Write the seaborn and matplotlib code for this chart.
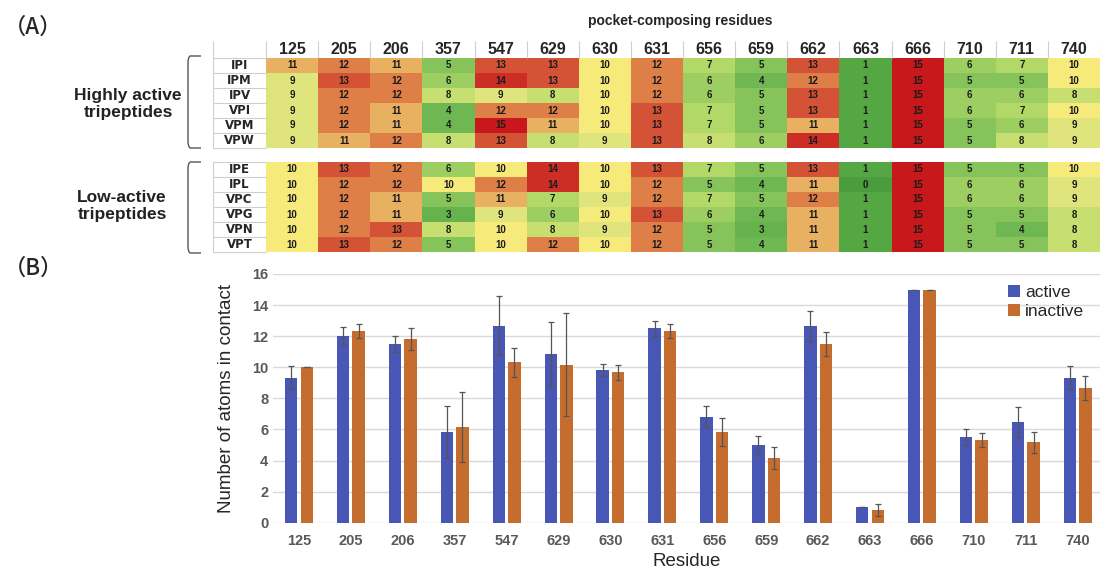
import numpy as np
import pandas as pd
import matplotlib.pyplot as plt
import seaborn as sns
from matplotlib.colors import LinearSegmentedColormap
from matplotlib.path import Path
from matplotlib.patches import PathPatch

sns.set_style('white')
plt.rcParams['font.family'] = ['Liberation Sans', 'DejaVu Sans']

# %% data
residues = ['125', '205', '206', '357', '547', '629', '630', '631',
            '656', '659', '662', '663', '666', '710', '711', '740']

high_names = ['IPI', 'IPM', 'IPV', 'VPI', 'VPM', 'VPW']
high_counts = [
    [11, 12, 11, 5, 13, 13, 10, 12, 7, 5, 13, 1, 15, 6, 7, 10],
    [9, 13, 12, 6, 14, 13, 10, 12, 6, 4, 12, 1, 15, 5, 5, 10],
    [9, 12, 12, 8, 9, 8, 10, 12, 6, 5, 13, 1, 15, 6, 6, 8],
    [9, 12, 11, 4, 12, 12, 10, 13, 7, 5, 13, 1, 15, 6, 7, 10],
    [9, 12, 11, 4, 15, 11, 10, 13, 7, 5, 11, 1, 15, 5, 6, 9],
    [9, 11, 12, 8, 13, 8, 9, 13, 8, 6, 14, 1, 15, 5, 8, 9],
]

low_names = ['IPE', 'IPL', 'VPC', 'VPG', 'VPN', 'VPT']
low_counts = [
    [10, 13, 12, 6, 10, 14, 10, 13, 7, 5, 13, 1, 15, 5, 5, 10],
    [10, 12, 12, 10, 12, 14, 10, 12, 5, 4, 11, 0, 15, 6, 6, 9],
    [10, 12, 11, 5, 11, 7, 9, 12, 7, 5, 12, 1, 15, 6, 6, 9],
    [10, 12, 11, 3, 9, 6, 10, 13, 6, 4, 11, 1, 15, 5, 5, 8],
    [10, 12, 13, 8, 10, 8, 9, 12, 5, 3, 11, 1, 15, 5, 4, 8],
    [10, 13, 12, 5, 10, 12, 10, 12, 5, 4, 11, 1, 15, 5, 5, 8],
]

# bar chart values
active_mean = [9.33, 12.0, 11.5, 5.83, 12.67, 10.83, 9.83, 12.5,
               6.83, 5.0, 12.67, 1.0, 15.0, 5.5, 6.5, 9.33]
active_err = [0.75, 0.58, 0.5, 1.67, 1.9, 2.1, 0.4, 0.5,
              0.7, 0.58, 0.95, 0.0, 0.0, 0.5, 0.96, 0.75]
inactive_mean = [10.0, 12.33, 11.83, 6.17, 10.33, 10.17, 9.67, 12.33,
                 5.83, 4.17, 11.5, 0.83, 15.0, 5.33, 5.17, 8.67]
inactive_err = [0.0, 0.47, 0.69, 2.27, 0.94, 3.3, 0.47, 0.47,
                0.9, 0.69, 0.76, 0.37, 0.0, 0.47, 0.69, 0.75]

# %% helpers
W, H = 1100, 572


def fx(px):
    return px / W


def fy(py):
    return 1 - py / H


cmap = LinearSegmentedColormap.from_list('ryg', [
    (0 / 15, '#4a9c3c'), (1 / 15, '#55a744'), (4 / 15, '#6fb752'),
    (5 / 15, '#86c35a'), (7 / 15, '#b2d867'), (8 / 15, '#c7de70'),
    (9 / 15, '#dfe47c'), (10 / 15, '#f6ea7b'), (11 / 15, '#e8b061'),
    (12 / 15, '#de7f48'), (13 / 15, '#d45235'), (14 / 15, '#cc2d24'),
    (15 / 15, '#c8181c')])

fig = plt.figure(figsize=(11, 5.72), dpi=100)

line_c = '#cfcfcf'


def draw_heat(names, counts, top, bottom, header):
    ax = fig.add_axes([fx(266), fy(bottom), fx(1100) - fx(266), fy(top) - fy(bottom)])
    df = pd.DataFrame(counts, index=names, columns=residues)
    sns.heatmap(df, ax=ax, cmap=cmap, vmin=0, vmax=15, annot=True, fmt='d',
                cbar=False, linewidths=0,
                annot_kws={'size': 7, 'weight': 'bold', 'color': '#1a1a1a'},
                xticklabels=residues if header else False, yticklabels=names)
    ax.tick_params(length=0)
    ax.set_xlabel('')
    ax.set_ylabel('')
    ax.tick_params(axis='y', pad=19)
    for lab in ax.get_yticklabels():
        lab.set_rotation(0)
        lab.set_ha('center')
        lab.set_fontsize(8.5)
        lab.set_fontweight('bold')
        lab.set_family(['Liberation Sans Narrow', 'DejaVu Sans'])
    top_y = -1.15 if header else 0
    ax.hlines(np.arange(0, len(names) + 1), -1.02, 0, colors=line_c, lw=0.8, clip_on=False)
    ax.vlines([-1.02], top_y, len(names), colors=line_c, lw=0.8, clip_on=False)
    if header:
        ax.xaxis.tick_top()
        ax.tick_params(axis='x', pad=1)
        for lab in ax.get_xticklabels():
            lab.set_fontsize(11.5)
            lab.set_fontweight('bold')
            lab.set_rotation(0)
        ax.vlines(np.arange(0, 17), -1.15, 0, colors=line_c, lw=0.8, clip_on=False)
    return ax


ax_hi = draw_heat(high_names, high_counts, 58, 148, True)
ax_lo = draw_heat(low_names, low_counts, 162, 252, False)

fig.text(fx(680), fy(21), 'pocket-composing residues', ha='center', va='center',
         fontsize=10, fontweight='bold')


def bracket(y0, y1):
    x0, x1 = fx(188), fx(201)
    t, b = fy(y0), fy(y1)
    r = 0.012
    verts = [(x1, t), (x0 + 0.002, t), (x0, t - 0.002), (x0, t - r),
             (x0, b + r), (x0, b + 0.002), (x0 + 0.002, b), (x1, b)]
    codes = [Path.MOVETO, Path.LINETO, Path.CURVE3, Path.CURVE3,
             Path.LINETO, Path.CURVE3, Path.CURVE3, Path.LINETO]
    fig.add_artist(PathPatch(Path(verts, codes), transform=fig.transFigure,
                             fill=False, edgecolor='#555555', lw=1.0))


bracket(56, 148)
bracket(162, 253)
fig.text(fx(128), fy(104), 'Highly active\ntripeptides', ha='center', va='center',
         fontsize=12.5, fontweight='bold', linespacing=1.15, color='#222222')
fig.text(fx(122), fy(206), 'Low-active\ntripeptides', ha='center', va='center',
         fontsize=12.5, fontweight='bold', linespacing=1.15, color='#222222')

fig.text(fx(4), fy(27), '（A）', ha='left', va='center', fontsize=16,
         fontweight='medium', family=['Noto Sans CJK JP', 'DejaVu Sans'])
fig.text(fx(4), fy(268), '（B）', ha='left', va='center', fontsize=16,
         fontweight='medium', family=['Noto Sans CJK JP', 'DejaVu Sans'])

# %% bar chart
axb = fig.add_axes([fx(273), fy(522.7), 1 - fx(273), fy(274) - fy(522.7)])
bars = pd.DataFrame({
    'Residue': residues * 2,
    'status': ['active'] * 16 + ['inactive'] * 16,
    'value': active_mean + inactive_mean,
})
sns.barplot(data=bars, x='Residue', y='value', hue='status',
            hue_order=['active', 'inactive'],
            palette={'active': '#4857b5', 'inactive': '#c46d2f'},
            saturation=1, width=0.6, gap=0.2, linewidth=0,
            errorbar=None, ax=axb)

for cont, err in zip(axb.containers, [active_err, inactive_err]):
    xs = [b.get_x() + b.get_width() / 2 for b in cont]
    ys = [b.get_height() for b in cont]
    axb.errorbar(xs, ys, yerr=err, fmt='none', ecolor='#555555',
                 elinewidth=0.9, capsize=2.5, capthick=0.9)

axb.set_ylim(0, 16)
axb.set_xlim(-0.5, 15.43)
axb.set_yticks(range(0, 17, 2))
axb.yaxis.grid(True, color='#d9d9d9', lw=1)
axb.set_axisbelow(True)
sns.despine(ax=axb, left=True, bottom=True)
axb.tick_params(length=0)
axb.tick_params(axis='x', pad=8)
for lab in axb.get_xticklabels() + axb.get_yticklabels():
    lab.set_fontweight('bold')
    lab.set_color('#595959')
    lab.set_fontsize(10.5)
axb.set_xlabel('Residue', fontsize=13.5, labelpad=4)
axb.set_ylabel('Number of atoms in contact', fontsize=13.5, labelpad=12)

axb.legend(loc='upper right', bbox_to_anchor=(1.0, 1.02), frameon=False,
           fontsize=12.5, handlelength=0.7, handleheight=0.7, handletextpad=0.3,
           labelspacing=0.25, title=None)

fig.savefig('out.png', dpi=100)
